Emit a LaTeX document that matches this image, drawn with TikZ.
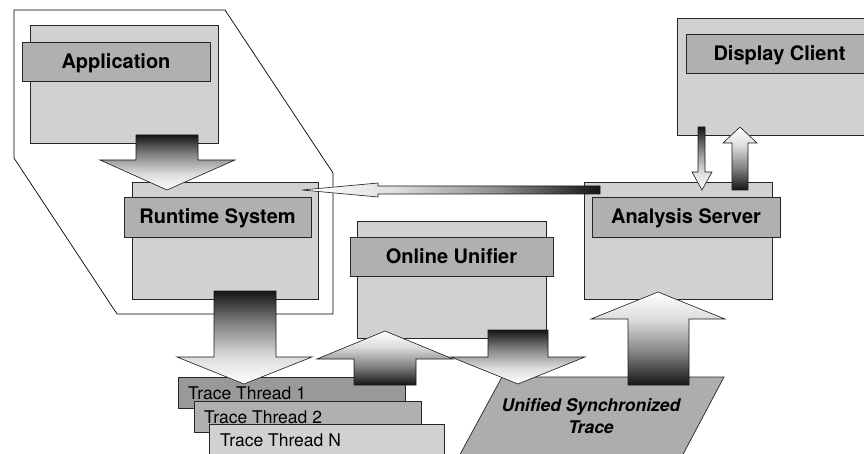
\documentclass[tikz,border=0pt]{standalone}
\usepackage{fontspec}
\setmainfont{TeX Gyre Heros}
\definecolor{boxgray}{gray}{0.82}
\definecolor{bargray}{gray}{0.69}
\definecolor{thrA}{gray}{0.60}
\definecolor{thrB}{gray}{0.69}
\definecolor{thrN}{gray}{0.82}
\definecolor{unigray}{gray}{0.68}
\pgfdeclareverticalshading{downfade}{100bp}{color(0bp)=(white); color(25bp)=(white); color(40bp)=(black!14); color(58bp)=(black!50); color(75bp)=(black!92); color(100bp)=(black!92)}
\pgfdeclareverticalshading{upfade}{100bp}{color(0bp)=(black!92); color(25bp)=(black!92); color(42bp)=(black!50); color(60bp)=(black!14); color(75bp)=(white); color(100bp)=(white)}
\pgfdeclarehorizontalshading{leftfade}{100bp}{color(0bp)=(white); color(25bp)=(white); color(40bp)=(black!12); color(58bp)=(black!45); color(75bp)=(black!92); color(100bp)=(black!92)}
\begin{document}
\begin{tikzpicture}[x=1pt,y=-1pt,
  outerbox/.style={draw=black!85,line width=0.7pt,fill=boxgray,inner sep=0pt},
  titlebar/.style={draw=black!85,line width=0.7pt,fill=bargray,inner sep=0pt,
    font=\fontsize{20}{24}\selectfont\bfseries,text height=14pt,text depth=0pt},
  threadbox/.style={draw=black!85,line width=0.7pt,inner sep=0pt},
  threadtext/.style={inner sep=0pt,anchor=base west,font=\fontsize{17.5}{20}\selectfont},
  blockarrow/.style={draw=black!90,line width=0.6pt},
  hull/.style={draw=black,line width=0.7pt}]
\useasboundingbox (0,0) rectangle (864,454);
\clip (0,0) rectangle (864,454);

% enclosing outline
\draw[hull] (14,10) -- (225,10) -- (333,173) -- (333,314) -- (117,314) -- (14,158) -- cycle;

% Application
\node[outerbox,minimum width=188pt,minimum height=118pt] (appbox) at (124,84) {};
\node[titlebar,minimum width=188pt,minimum height=39pt] (app) at (116,61.5) {Application};

% Runtime System
\node[outerbox,minimum width=186pt,minimum height=117pt] (rtbox) at (225,240.5) {};
\node[titlebar,minimum width=187pt,minimum height=40pt] (rt) at (217.5,217) {Runtime System};

% Online Unifier
\node[outerbox,minimum width=189pt,minimum height=117pt] (oubox) at (451.5,279.5) {};
\node[titlebar,minimum width=203pt,minimum height=39pt] (ou) at (451.5,256.5) {Online Unifier};

% Analysis Server
\node[outerbox,minimum width=188pt,minimum height=117pt] (asbox) at (678,240.5) {};
\node[titlebar,minimum width=188pt,minimum height=40pt] (as) at (686,217) {Analysis Server};

% Display Client
\node[outerbox,minimum width=188pt,minimum height=117pt] (dcbox) at (771,76.5) {};
\node[titlebar,minimum width=187pt,minimum height=39pt] (dc) at (779.5,53.5) {Display Client};

% Trace threads
\node[threadbox,fill=thrA,minimum width=227pt,minimum height=31pt] (t1) at (291.5,392.5) {};
\node[threadtext] (t1t) at (188,399) {Trace Thread 1};
\node[threadbox,fill=thrB,minimum width=227pt,minimum height=31pt] (t2) at (307.5,416.5) {};
\node[threadtext] (t2t) at (204,423) {Trace Thread 2};
\node[threadbox,fill=thrN,minimum width=235pt,minimum height=36pt] (tn) at (326.5,442) {};
\node[threadtext] (tnt) at (220,446) {Trace Thread N};

% Unified Synchronized Trace
\draw[draw=black!85,line width=0.7pt,fill=unigray] (502,377) -- (724,377) -- (680,460) -- (457,460) -- cycle;
\node[inner sep=0pt,align=center,font=\fontsize{17.5}{22}\selectfont\bfseries\itshape] (ust) at (591,416) {Unified Synchronized\\Trace};

% block arrows
% Application -> Runtime System
\shadedraw[blockarrow,shading=downfade] (136,135) -- (198,135) -- (198,160) -- (235,160) -- (167,190) -- (100,160) -- (136,160) -- cycle;
% Runtime System -> Trace threads
\shadedraw[blockarrow,shading=downfade] (214,291) -- (276,291) -- (276,357) -- (312,357) -- (244,384) -- (177,357) -- (214,357) -- cycle;
% Trace threads -> Online Unifier
\shadedraw[blockarrow,shading=upfade] (354,385) -- (416,385) -- (416,359) -- (453,359) -- (385,331) -- (317,359) -- (354,359) -- cycle;
% Online Unifier -> Unified trace
\shadedraw[blockarrow,shading=downfade] (488,330) -- (548,330) -- (548,357) -- (585,357) -- (518,384) -- (451,357) -- (488,357) -- cycle;
% Unified trace -> Analysis Server
\shadedraw[blockarrow,shading=upfade] (628,385) -- (689,385) -- (689,319) -- (725,319) -- (658,292) -- (591,319) -- (628,319) -- cycle;
% Analysis Server -> Runtime System (feedback)
\shadedraw[blockarrow,shading=leftfade] (600,186) -- (378,186) -- (378,183) -- (302,190) -- (378,197) -- (378,194) -- (600,194) -- cycle;
% Display Client -> Analysis Server
\shadedraw[blockarrow,shading=downfade] (698,127) -- (705,127) -- (705,172) -- (712,172) -- (702,190) -- (692,172) -- (698,172) -- cycle;
% Analysis Server -> Display Client
\shadedraw[blockarrow,shading=upfade] (732,190) -- (748,190) -- (748,143) -- (757,143) -- (740,127) -- (723,143) -- (732,143) -- cycle;
\end{tikzpicture}
\end{document}
